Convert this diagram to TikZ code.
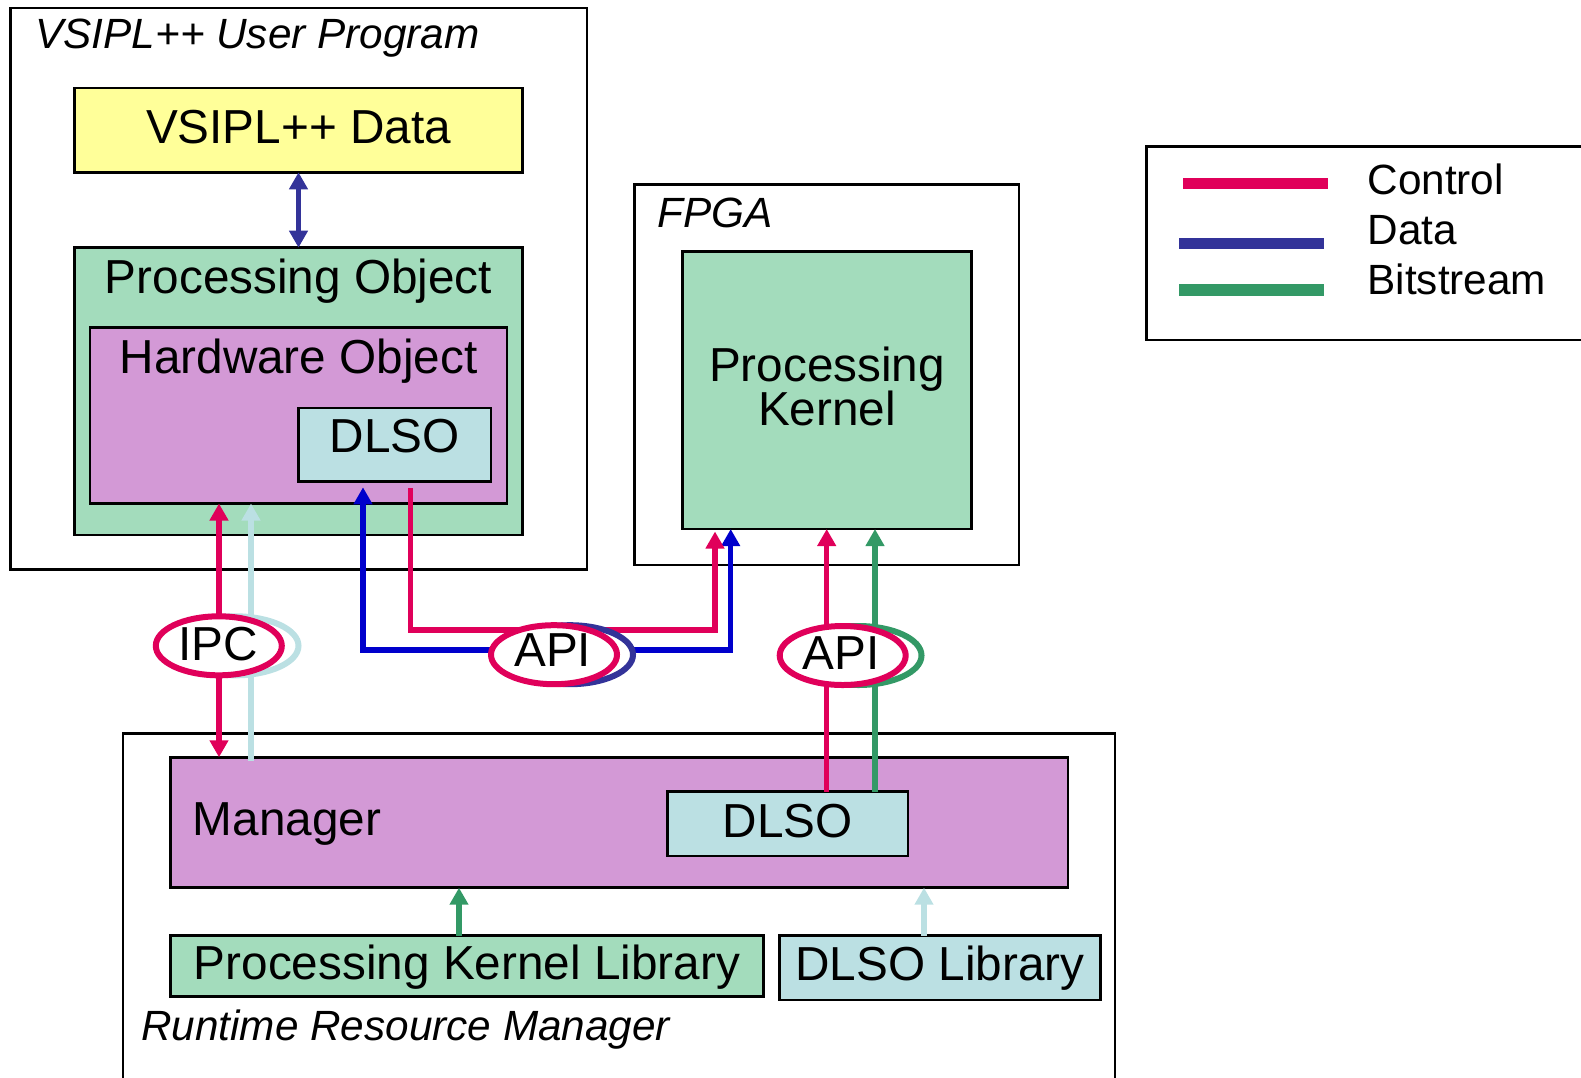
\documentclass[tikz,border=0pt]{standalone}
\usepackage{fontspec}
\setmainfont{Liberation Sans}
\usetikzlibrary{arrows.meta,shapes.geometric,fit}

\definecolor{ctrlred}{RGB}{224,0,90}
\definecolor{datablue}{RGB}{51,51,153}
\definecolor{linkblue}{RGB}{0,0,204}
\definecolor{bitgreen}{RGB}{51,153,102}
\definecolor{dlsocyan}{RGB}{187,224,227}
\definecolor{datayellow}{RGB}{255,255,153}
\definecolor{objgreen}{RGB}{163,220,188}
\definecolor{hwpurple}{RGB}{211,153,214}

\begin{document}
\begin{tikzpicture}[x=1pt,y=-1pt,
  >={Triangle[length=17pt,width=18pt]},
  box/.style={draw=black, line width=2.5pt, inner sep=0pt, outer sep=0pt},
  txt/.style={font=\fontsize{47.7}{44}\selectfont, inner sep=0pt, anchor=base},
  ttl/.style={font=\fontsize{42.3}{46}\selectfont\itshape, inner sep=0pt, anchor=base west},
  lgd/.style={font=\fontsize{42.3}{46}\selectfont, inner sep=0pt, anchor=base west},
  ctrl/.style={draw=ctrlred, line width=5.5pt},
  datalink/.style={draw=linkblue, line width=5.5pt},
  dataarr/.style={draw=datablue, line width=5.5pt},
  bits/.style={draw=bitgreen, line width=5.5pt},
  lite/.style={draw=dlsocyan, line width=5.5pt},
  ring/.style={ellipse, line width=6pt, fill=white, inner sep=0pt,
               minimum width=126pt, minimum height=59pt},
  swatch/.style={line width=11.3pt}
]
\useasboundingbox (0,0) rectangle (1581,1077);
\clip (0,0) rectangle (1581,1077);

% ---------- boxes ----------
\node[box, fit={(10.7,8.1) (587,569.3)}] (user) {};
\node[box, fill=datayellow, fit={(74.6,88) (522.4,172.3)}] (vdata) {};
\node[box, fill=objgreen, fit={(74.6,247.7) (522.4,535)}] (procobj) {};
\node[box, fill=hwpurple, fit={(90.2,327.5) (507,503.5)}] (hwobj) {};
\node[box, fill=dlsocyan, fit={(298.3,407.8) (491,481.3)}] (dlsoA) {};

\node[box, fit={(634.7,184.7) (1019,565)}] (fpga) {};
\node[box, fill=objgreen, fit={(682.7,251.7) (971.3,529)}] (pk) {};

\node[box, fit={(1146.7,146.7) (1640,340)}] (legend) {};

\node[box, fit={(122.9,733.3) (1115,1120)}] (rrm) {};
\node[box, fill=hwpurple, fit={(170.6,757.3) (1068,887.7)}] (mgr) {};
\node[box, fill=dlsocyan, fit={(667.4,791.7) (908,856)}] (dlsoB) {};
\node[box, fill=objgreen, fit={(170.6,935.7) (763.5,996.7)}] (pkl) {};
\node[box, fill=dlsocyan, fit={(779.7,935.7) (1100.3,1000)}] (dlsolib) {};

% ---------- labels ----------
\node[ttl] (tUser) at (35.2,48) {VSIPL++ User Program};
\node[txt] (tData) at (298.5,143.4) {VSIPL++ Data};
\node[txt] (tPO) at (298.5,293.9) {Processing Object};
\node[txt] (tHW) at (298.6,373.4) {Hardware Object};
\node[txt] (tDA) at (394.6,452.9) {DLSO};
\node[ttl] (tFPGA) at (657.3,227.3) {FPGA};
\node[txt] (tPK1) at (827,381.7) {Processing};
\node[txt] (tPK2) at (827,425.7) {Kernel};
\node[txt, anchor=base west] (tMgr) at (192.6,835) {Manager};
\node[txt] (tDB) at (787.7,837.3) {DLSO};
\node[txt] (tPKL) at (467,979.3) {Processing Kernel Library};
\node[txt] (tDL) at (940,980.7) {DLSO Library};
\node[ttl] (tRRM) at (141,1040) {Runtime Resource Manager};

% ---------- legend ----------
\coordinate (lc1) at (1183.3,183.3); \coordinate (lc2) at (1328.3,183.3);
\coordinate (ld1) at (1179,243.5);   \coordinate (ld2) at (1324,243.5);
\coordinate (lb1) at (1179,290);     \coordinate (lb2) at (1324,290);
\draw[swatch, ctrlred] (lc1) -- (lc2);
\draw[swatch, datablue] (ld1) -- (ld2);
\draw[swatch, bitgreen] (lb1) -- (lb2);
\node[lgd] (lgC) at (1367.3,194) {Control};
\node[lgd] (lgD) at (1367.3,244) {Data};
\node[lgd] (lgB) at (1367.3,294) {Bitstream};

% ---------- connector columns and rows ----------
\coordinate (xA) at (219,0);
\coordinate (xB) at (251,0);
\coordinate (xC) at (363,0);
\coordinate (xD) at (410.5,0);
\coordinate (xE) at (715,0);
\coordinate (xF) at (730.7,0);
\coordinate (xG) at (826.7,0);
\coordinate (xH) at (875,0);
\coordinate (xI) at (459,0);
\coordinate (xJ) at (924,0);
\coordinate (yC) at (0,630);
\coordinate (yD) at (0,650);

% ---------- connectors ----------
\draw[dataarr, <->] (vdata.south) -- (procobj.north);

\draw[ctrl, <->] (xA |- hwobj.south) -- (xA |- mgr.north);
\draw[lite, ->] ([yshift=-3.4pt]xB |- mgr.north) -- (xB |- hwobj.south);

\draw[datalink, <->, shorten <=6pt] (xC |- dlsoA.south) |- (xF |- yD) -- (xF |- pk.south);
\draw[ctrl, ->, shorten <=7pt, shorten >=2.5pt] (xD |- dlsoA.south) |- (xE |- yC) -- (xE |- pk.south);

\draw[ctrl, ->] (xG |- dlsoB.north) -- (xG |- pk.south);
\draw[bits, ->] (xH |- dlsoB.north) -- (xH |- pk.south);

\draw[bits, ->] (xI |- pkl.north) -- (xI |- mgr.south);
\draw[lite, ->] (xJ |- dlsolib.north) -- (xJ |- mgr.south);

% ---------- interface rings ----------
\node[ring, draw=dlsocyan] (ipcB) at (235.5,645.8) {};
\node[ring, draw=ctrlred] (ipc) at (218.8,645.8) {};
\node[txt] (tIPC) at (218,660) {IPC};

\node[ring, draw=datablue] (apiB) at (570,654.7) {};
\node[ring, draw=ctrlred] (api) at (554,654.7) {};
\node[txt] (tAPI) at (552.7,666.7) {API};

\node[ring, draw=bitgreen] (apiRB) at (858.5,655.5) {};
\node[ring, draw=ctrlred] (apiR) at (842.7,655.5) {};
\node[txt] (tAPIR) at (840.8,669.3) {API};
\end{tikzpicture}
\end{document}
